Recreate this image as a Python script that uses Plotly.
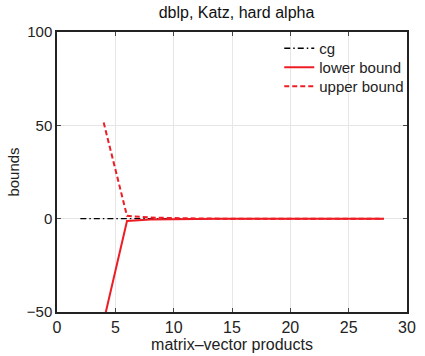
import plotly.graph_objects as go

cg_x = [2, 4, 6, 8, 10, 12, 14, 16, 18, 20, 22, 24, 26, 28]
cg_y = [0, 0, 0, 0, 0, 0, 0, 0, 0, 0, 0, 0, 0, 0]
lb_x = [4, 6, 8, 10, 12, 14, 16, 18, 20, 22, 24, 26, 28]
lb_y = [-55, -1.2, -0.5, -0.2, -0.1, 0, 0, 0, 0, 0, 0, 0, 0]
ub_x = [4, 6, 8, 10, 12, 14, 16, 18, 20, 22, 24, 26, 28]
ub_y = [51.5, 1.5, 0.6, 0.2, 0.1, 0, 0, 0, 0, 0, 0, 0, 0]

x_ticks = [0, 5, 10, 15, 20, 25, 30]
y_ticks = [-50, 0, 50, 100]
y_labels = ["\u221250", "0", "50", "100"]

font = "Liberation Sans, Arial, sans-serif"

fig = go.Figure()
fig.add_trace(go.Scatter(x=cg_x, y=cg_y, mode="lines", name="cg", legend="legend",
                         line=dict(color="black", width=1.3, dash="6px,3px,1.5px,3px")))
fig.add_trace(go.Scatter(x=lb_x, y=lb_y, mode="lines", name="lower bound", legend="legend2",
                         line=dict(color="#ee1c25", width=2)))
fig.add_trace(go.Scatter(x=ub_x, y=ub_y, mode="lines", name="upper bound", legend="legend3",
                         line=dict(color="#ee1c25", width=2, dash="5px,3px")))

leg = dict(x=0.635, xanchor="left", yanchor="top", bgcolor="rgba(0,0,0,0)",
           borderwidth=0, font=dict(size=15), itemwidth=30)

fig.update_layout(
    width=425, height=356,
    margin=dict(l=57, r=9, t=32, b=44),
    paper_bgcolor="white", plot_bgcolor="white",
    font=dict(family=font, size=15, color="#222"),
    title=dict(text="dblp, Katz, hard alpha", x=(57 + 416) / 2 / 425, xanchor="center",
               y=1 - 12 / 356, yanchor="middle", font=dict(size=16, color="#111")),
    showlegend=True,
    legend=dict(leg, y=1.0),
    legend2=dict(leg, y=0.932),
    legend3=dict(leg, y=0.864),
    xaxis=dict(range=[0, 30], tickvals=x_ticks, ticks="inside", ticklen=4,
               showline=True, linecolor="#222", linewidth=1.5, mirror="ticks",
               showgrid=True, gridcolor="#e6e6e6", zeroline=False,
               tickfont=dict(size=16),
               title=dict(text="matrix\u2013vector products", standoff=0, font=dict(size=16))),
    yaxis=dict(range=[-50, 100], tickvals=y_ticks, ticktext=y_labels, ticks="inside", ticklen=4,
               showline=True, linecolor="#222", linewidth=1.5, mirror="ticks",
               showgrid=True, gridcolor="#e6e6e6", zeroline=False,
               tickfont=dict(size=15),
               title=dict(text="bounds", standoff=4, font=dict(size=15))),
)

fig.write_html("out.html")
